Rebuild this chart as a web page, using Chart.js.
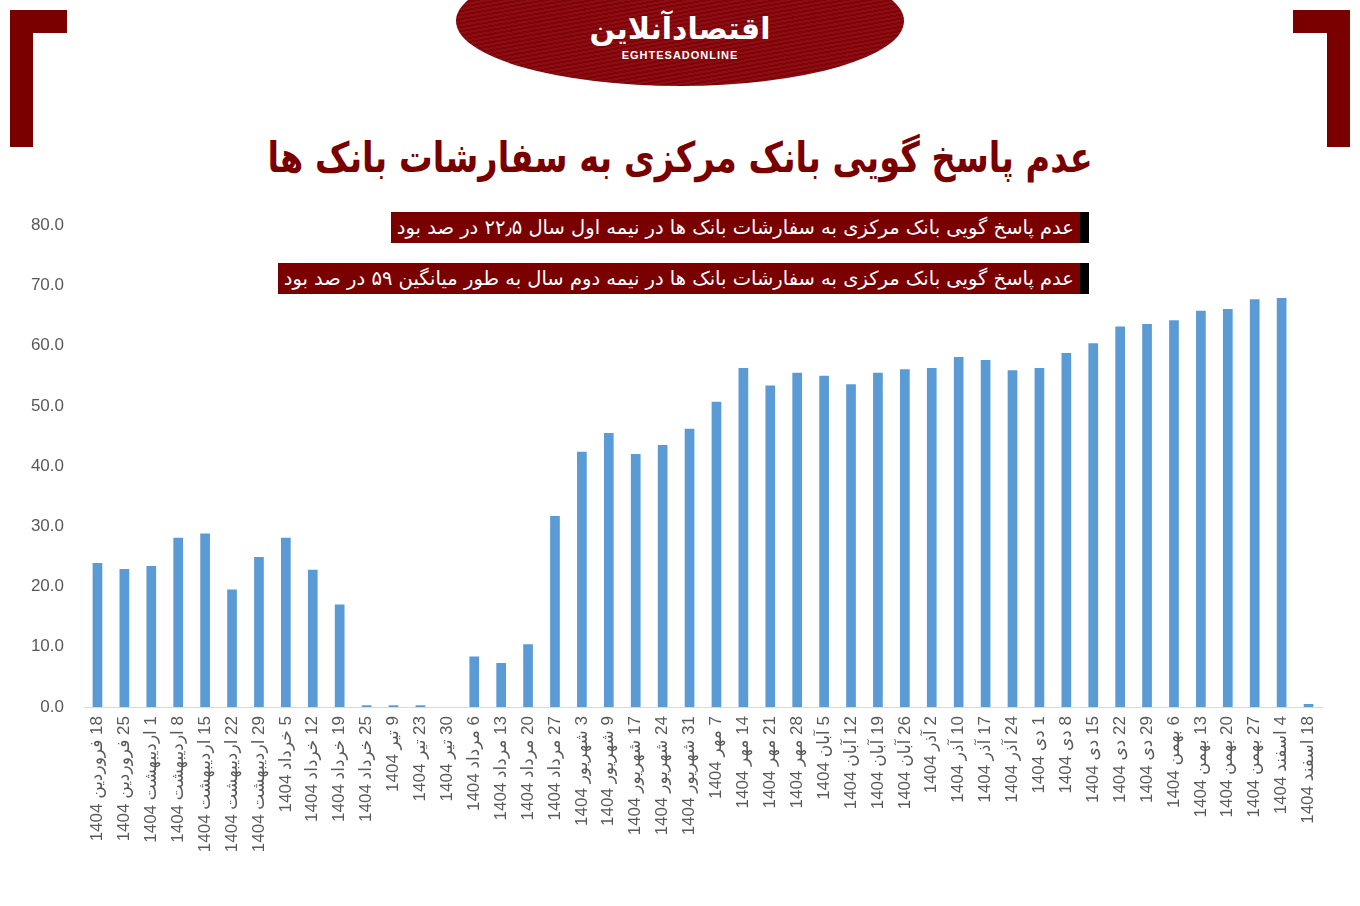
<!DOCTYPE html>
<html lang="fa">
<head>
<meta charset="utf-8">
<script src="https://cdn.jsdelivr.net/npm/chart.js@4/dist/chart.umd.min.js"></script>
<style>
  body { margin: 0; width: 1360px; height: 906px; background: #fff; position: relative; overflow: hidden; font-family: "DejaVu Sans", sans-serif; }
  .corner { position: absolute; top: 10px; width: 57px; height: 137px; }
  .corner .h { position: absolute; top: 0; height: 23px; width: 57px; background: #7a0000; }
  .corner .v { position: absolute; top: 0; width: 23px; height: 137px; background: #7a0000; }
  #cl { left: 10px; } #cl .h, #cl .v { left: 0; }
  #cr { left: 1293px; } #cr .h, #cr .v { right: 0; }
  #logo { position: absolute; left: 456px; top: -44px; width: 448px; height: 130px; border-radius: 50%;
    background: repeating-linear-gradient(170deg, #8e0d12 0px, #8e0d12 2px, #7d050a 2px, #7d050a 4px); }
  #logo .fa { position: absolute; left: 0; width: 448px; top: 55px; text-align: center; color: #fff; font-weight: bold; font-size: 30px; direction: rtl; }
  #logo .en { position: absolute; left: 0; width: 448px; top: 93px; text-align: center; color: #fff; font-weight: bold; font-size: 11px; font-family: "Liberation Sans", Arial, sans-serif; letter-spacing: 1px; }
  #title { position: absolute; left: 80px; width: 1200px; top: 133px; text-align: center; direction: rtl; color: #7a0000; font-weight: bold; font-size: 42px; white-space: nowrap; transform: scaleX(0.8); }
  .note { position: absolute; right: 271px; height: 31px; background: #7a0000; border-right: 9px solid #000; color: #fff; direction: rtl; font-size: 19.5px; line-height: 31px; padding: 0 6px; white-space: nowrap; }
  #n1 { top: 212px; }
  #n2 { top: 263px; }
  /* chart.js keeps ~30px above the plot for the top y label, so the canvas starts a bit higher */
  #wrap { position: absolute; left: 0; top: 195px; width: 1360px; height: 711px; }
  #chart { direction: rtl; }
</style>
</head>
<body>
<div id="cl" class="corner"><div class="h"></div><div class="v"></div></div>
<div id="cr" class="corner"><div class="h"></div><div class="v"></div></div>
<div id="logo"><div class="fa">اقتصادآنلاین</div><div class="en">EGHTESADONLINE</div></div>

<div id="wrap"><canvas id="chart"></canvas></div>

<div id="title">عدم پاسخ گویی بانک مرکزی به سفارشات بانک ها</div>
<div id="n1" class="note">عدم پاسخ گویی بانک مرکزی به سفارشات بانک ها در نیمه اول سال ۲۲٫۵ در صد بود</div>
<div id="n2" class="note">عدم پاسخ گویی بانک مرکزی به سفارشات بانک ها در نیمه دوم سال به طور میانگین ۵۹ در صد بود</div>

<script>
// dates (1404)
const dates = [
  '18 فروردین 1404', '25 فروردین 1404', '1 اردیبهشت 1404', '8 اردیبهشت 1404', '15 اردیبهشت 1404',
  '22 اردیبهشت 1404', '29 اردیبهشت 1404', '5 خرداد 1404', '12 خرداد 1404', '19 خرداد 1404',
  '25 خرداد 1404', '9 تیر 1404', '23 تیر 1404', '30 تیر 1404', '6 مرداد 1404',
  '13 مرداد 1404', '20 مرداد 1404', '27 مرداد 1404', '3 شهریور 1404', '9 شهریور 1404',
  '17 شهریور 1404', '24 شهریور 1404', '31 شهریور 1404', '7 مهر 1404', '14 مهر 1404',
  '21 مهر 1404', '28 مهر 1404', '5 آبان 1404', '12 آبان 1404', '19 آبان 1404',
  '26 آبان 1404', '2 آذر 1404', '10 آذر 1404', '17 آذر 1404', '24 آذر 1404',
  '1 دی 1404', '8 دی 1404', '15 دی 1404', '22 دی 1404', '29 دی 1404',
  '6 بهمن 1404', '13 بهمن 1404', '20 بهمن 1404', '27 بهمن 1404', '4 اسفند 1404',
  '18 اسفند 1404'
];

// percent of unanswered orders
const unanswered = [
  23.9, 22.9, 23.4, 28.1, 28.8, 19.5, 24.9, 28.1, 22.8, 17.0,
  0.3, 0.3, 0.3, 0, 8.4, 7.3, 10.4, 31.7, 42.4, 45.5,
  42.0, 43.5, 46.2, 50.7, 56.3, 53.4, 55.5, 55.0, 53.6, 55.5,
  56.1, 56.3, 58.1, 57.6, 55.9, 56.3, 58.8, 60.4, 63.2, 63.6,
  64.2, 65.8, 66.1, 67.7, 67.9, 0.5
];

const yMin = 0;
const yMax = 80;
const yStep = 10;

const tickFont = { family: "'Liberation Sans', Arial, 'DejaVu Sans', sans-serif", size: 17 };

new Chart(document.getElementById('chart'), {
  type: 'bar',
  data: {
    labels: dates,
    datasets: [{
      data: unanswered,
      backgroundColor: '#5b9bd5',
      categoryPercentage: 1,
      barPercentage: 0.36
    }]
  },
  options: {
    responsive: true,
    maintainAspectRatio: false,
    animation: false,
    layout: { padding: { top: 0, right: 38, left: 0, bottom: 0 } },
    plugins: { legend: { display: false }, tooltip: { enabled: false } },
    scales: {
      x: {
        grid: { display: false, drawTicks: false },
        border: { display: true, color: '#d9d9d9', width: 1 },
        ticks: { autoSkip: false, minRotation: 90, maxRotation: 90, padding: 9, color: '#595959', font: tickFont },
        afterFit: s => { s.height = 199; }
      },
      y: {
        min: yMin,
        max: yMax,
        grid: { display: false, drawTicks: false },
        border: { display: false },
        ticks: { stepSize: yStep, padding: 20, color: '#595959', font: tickFont, callback: v => v.toFixed(1) },
        afterFit: s => { s.width = 84; }
      }
    }
  }
});
</script>
</body>
</html>
